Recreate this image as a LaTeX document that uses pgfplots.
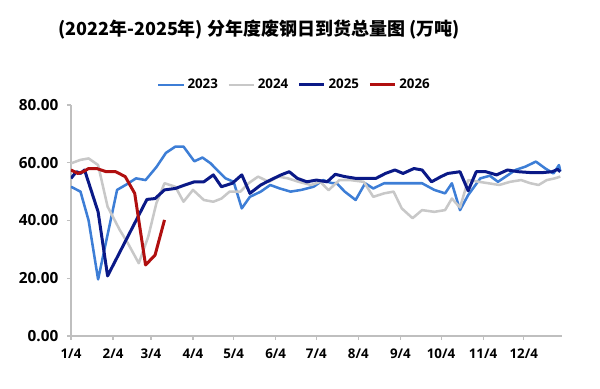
\documentclass[border=0pt]{standalone}
\usepackage{pgfplots}
\pgfplotsset{compat=1.18}
\usepackage{fontspec}
\setmainfont{Open Sans}
\newfontfamily\cjk{Noto Sans CJK SC}
\definecolor{c23}{HTML}{3D7ED6}
\definecolor{c24}{HTML}{C8C8C8}
\definecolor{c25}{HTML}{0A1987}
\definecolor{c26}{HTML}{B00F0F}
\definecolor{axisgray}{HTML}{BFBFBF}
\begin{document}
\begin{tikzpicture}
\useasboundingbox (-53.25pt,-39.75pt) rectangle (396.75pt,252pt);
\node[font=\cjk\bfseries\fontsize{13.5}{16}\selectfont] at (141pt,229.5pt) {(2022年-2025年) 分年度废钢日到货总量图 (万吨)};
\begin{axis}[
 at={(0,0)}, anchor=south west,
 scale only axis, width=368pt, height=173.25pt,
 xmin=0, xmax=362, ymin=0, ymax=80,
 axis x line=bottom, axis y line=left,
 axis line style={-, draw=axisgray, line width=0.8pt},
 xtick={0,31,59,90,120,151,181,212,243,273,304,334},
 xticklabels={1/4,2/4,3/4,4/4,5/4,6/4,7/4,8/4,9/4,10/4,11/4,12/4},
 ytick={0,20,40,60,80},
 /pgf/number format/assume math mode=true,
 yticklabel style={/pgf/number format/fixed, /pgf/number format/fixed zerofill, /pgf/number format/precision=2, font=\bfseries\fontsize{11.5}{13}\selectfont, xshift=-3pt},
 xticklabel style={font=\bfseries\fontsize{10}{12}\selectfont, yshift=-3pt},
 tick style={draw=axisgray, line width=0.8pt},
 major tick length=3pt,
 tick align=outside,
 legend columns=4,
 legend style={at={(0.456,1.087)}, anchor=center, draw=none, fill=none,
   font=\bfseries\fontsize{10}{12}\selectfont,
   /tikz/every even column/.append style={column sep=5pt}},
 legend image code/.code={\draw[#1] (0pt,0pt) -- (19pt,0pt);},
 every axis plot/.append style={line join=round},
]
\addplot[c23, line width=1.9pt] coordinates {
(0,51.7) (7,50) (13,40) (20,19.6) (34,50.6) (41,52.5) (48,54.6) (55,54) (63,58.5) (70,63.4) (77,65.6) (83,65.6) (91,60.5) (97,61.8) (103,59.8) (109,56.9) (114,54.6) (120,53.4) (126,44.2) (132,48.2) (140,50) (147,52.3) (154,51.1) (162,50) (170,50.6) (179,51.7) (186,54) (192,53) (196,52.9) (202,50) (210,47.1) (217,52.9) (223,51.1) (231,52.9) (241,52.9) (250,52.9) (259,52.9) (268,50.6) (276,49.4) (281,52.9) (287,43.6) (293,48.8) (302,54.6) (309,55.5) (315,53.4) (328,57.5) (335,58.6) (343,60.4) (350,58) (356,56.3) (360,59.2) (361,57)
};
\addlegendentry{2023}
\addplot[c24, line width=1.9pt] coordinates {
(0,59.8) (7,61) (13,61.5) (20,59.2) (27,44.8) (36,36.7) (42,32.1) (50,25.2) (57,34.4) (63,46) (69,52.9) (77,51.7) (83,46.5) (90,50.6) (98,47.1) (105,46.5) (111,47.6) (117,50) (125,50) (131,52.9) (138,55.2) (146,53.4) (153,55.2) (160,54.6) (168,53.4) (177,52.3) (184,53.4) (190,50.5) (198,54) (206,54) (216,53.4) (223,48.2) (231,49.4) (238,50) (244,44.2) (252,40.8) (259,43.6) (268,43) (276,43.6) (281,47.6) (287,44.5) (293,54) (301,53.4) (308,52.9) (316,52.3) (324,53.4) (332,54) (339,52.9) (345,52.3) (351,54) (357,54.6) (361,55.2)
};
\addlegendentry{2024}
\addplot[c25, line width=2.25pt] coordinates {
(0,54.6) (4,56.9) (7,56.3) (10,57.5) (20,43) (27,20.8) (56,47.3) (62,47.6) (69,50.6) (77,51.1) (84,52.3) (91,53.4) (98,53.4) (105,55.8) (111,51.7) (119,52.9) (126,55.8) (132,49.4) (140,52.3) (147,54) (155,55.8) (161,56.9) (167,54.6) (174,53.4) (181,54) (189,53.4) (195,56) (202,55.2) (210,54.6) (217,54.6) (225,54.6) (232,56.3) (239,57.5) (245,56.3) (253,58) (259,57.5) (266,53.4) (273,55.2) (278,56.3) (287,56.9) (293,50.3) (299,56.9) (306,56.9) (314,55.8) (322,57.5) (330,56.9) (339,56.6) (348,56.6) (355,56.9) (359,57.7) (361,56.9)
};
\addlegendentry{2025}
\addplot[c26, line width=2.25pt] coordinates {
(0,57.5) (5,56.3) (9,56.9) (13,58) (19,58) (26,56.9) (33,56.9) (40,55.2) (47,49.4) (55,24.6) (62,28) (69,40.2)
};
\addlegendentry{2026}
\end{axis}
\end{tikzpicture}
\end{document}
